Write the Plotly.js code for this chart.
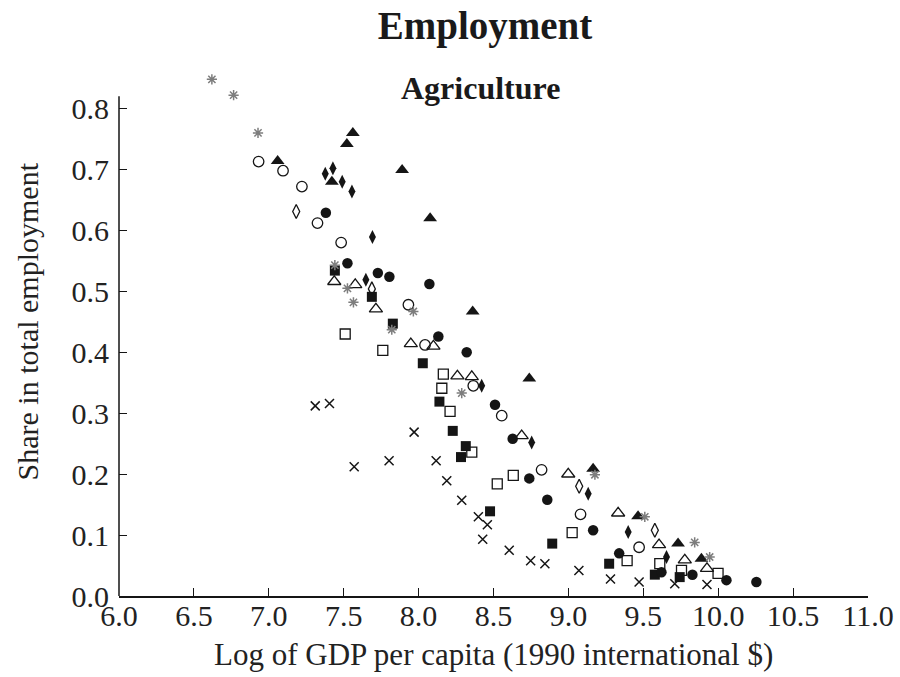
<!DOCTYPE html>
<html>
<head>
<meta charset="utf-8">
<script src="https://cdn.plot.ly/plotly-3.0.1.min.js"></script>
<style>html,body{margin:0;padding:0;background:#fff;}#chart{width:900px;height:677px;}</style>
</head>
<body>
<div id="chart"></div>
<script>
// Log of GDP per capita (x) and share of agriculture in total employment (y), by country series
const asteriskX = [6.62, 6.765, 6.928, 7.441, 7.525, 7.565, 7.821, 7.965, 8.288, 9.177, 9.51, 9.843, 9.943];
const asteriskY = [0.848, 0.822, 0.760, 0.543, 0.505, 0.482, 0.437, 0.467, 0.333, 0.199, 0.130, 0.088, 0.064];

const filledTriX = [7.059, 7.521, 7.561, 7.421, 7.89, 8.077, 8.361, 8.739, 9.165, 9.465, 9.732, 9.888];
const filledTriY = [0.714, 0.742, 0.760, 0.680, 0.699, 0.620, 0.467, 0.357, 0.209, 0.131, 0.086, 0.061];

const openCircX = [6.932, 7.095, 7.221, 7.325, 7.483, 7.932, 8.043, 8.365, 8.555, 8.821, 9.081, 9.472];
const openCircY = [0.713, 0.698, 0.672, 0.612, 0.580, 0.478, 0.412, 0.345, 0.296, 0.207, 0.134, 0.080];

const filledDiaX = [7.377, 7.428, 7.49, 7.555, 7.692, 7.648, 8.421, 8.755, 9.132, 9.399, 9.655];
const filledDiaY = [0.693, 0.702, 0.680, 0.664, 0.589, 0.519, 0.345, 0.252, 0.168, 0.105, 0.064];

const openDiaX = [7.183, 7.688, 9.072, 9.577];
const openDiaY = [0.631, 0.504, 0.180, 0.108];

const filledCircX = [7.381, 7.525, 7.728, 7.805, 8.072, 8.132, 8.321, 8.51, 8.628, 8.739, 8.859, 9.165, 9.339, 9.621, 9.828, 10.055, 10.255];
const filledCircY = [0.629, 0.546, 0.530, 0.524, 0.512, 0.426, 0.400, 0.314, 0.258, 0.193, 0.158, 0.108, 0.070, 0.039, 0.035, 0.026, 0.023];

const filledSqX = [7.441, 7.688, 7.828, 8.028, 8.139, 8.228, 8.315, 8.283, 8.477, 8.892, 9.272, 9.577, 9.743];
const filledSqY = [0.534, 0.491, 0.447, 0.382, 0.319, 0.271, 0.246, 0.228, 0.139, 0.086, 0.053, 0.035, 0.031];

const openSqX = [7.51, 7.761, 8.165, 8.155, 8.21, 8.355, 8.525, 8.632, 9.025, 9.392, 9.61, 9.755, 9.999];
const openSqY = [0.430, 0.403, 0.364, 0.341, 0.303, 0.236, 0.184, 0.198, 0.104, 0.058, 0.053, 0.042, 0.037];

const openTriX = [7.437, 7.577, 7.715, 7.948, 8.099, 8.259, 8.355, 8.688, 8.999, 9.332, 9.605, 9.777, 9.925];
const openTriY = [0.516, 0.511, 0.471, 0.414, 0.410, 0.361, 0.360, 0.263, 0.200, 0.136, 0.084, 0.059, 0.045];

const crossX = [7.31, 7.405, 7.57, 7.803, 7.97, 8.117, 8.188, 8.288, 8.399, 8.459, 8.428, 8.605, 8.748, 8.843, 9.07, 9.281, 9.472, 9.71, 9.925];
const crossY = [0.312, 0.316, 0.212, 0.222, 0.269, 0.222, 0.189, 0.157, 0.130, 0.117, 0.093, 0.075, 0.058, 0.053, 0.042, 0.028, 0.023, 0.020, 0.019];

const xTicks = [6.0, 6.5, 7.0, 7.5, 8.0, 8.5, 9.0, 9.5, 10.0, 10.5, 11.0];
const yTicks = [0.0, 0.1, 0.2, 0.3, 0.4, 0.5, 0.6, 0.7, 0.8];
const yAxisTop = 0.82;   // the drawn y axis stops here
const yRangeTop = 0.86;  // room above it for the points that pass the axis end

const chartTitle = 'Employment';
const panelTitle = 'Agriculture';
const xTitle = 'Log of GDP per capita (1990 international $)';
const yTitle = 'Share in total employment';

const INK = '#151515';
const GRAY = '#7d7d7d';
const SERIF = '"Liberation Serif", "Times New Roman", serif';

function tr(x, y, symbol, size, color, lineW, lineColor) {
  return {
    type: 'scatter', mode: 'markers', x: x, y: y, cliponaxis: false, hoverinfo: 'skip',
    marker: { symbol: symbol, size: size, color: color, line: { width: lineW, color: lineColor || color } }
  };
}

const data = [
  tr(crossX, crossY, 'x-thin-open', 9, INK, 1.5),
  tr(openSqX, openSqY, 'square-open', 10, INK, 1.3),
  tr(openTriX, openTriY, 'triangle-up-open', 11.5, INK, 1.3),
  tr(openCircX, openCircY, 'circle-open', 10.5, INK, 1.3),
  tr(openDiaX, openDiaY, 'diamond-tall-open', 10, INK, 1.3),
  tr(filledSqX, filledSqY, 'square', 10, INK, 0),
  tr(filledCircX, filledCircY, 'circle', 10.5, INK, 0),
  tr(filledDiaX, filledDiaY, 'diamond-tall', 10, INK, 0),
  tr(filledTriX, filledTriY, 'triangle-up', 12, INK, 0),
  tr(asteriskX, asteriskY, 'asterisk-open', 8.5, GRAY, 1.5)
];

const axisCommon = {
  showgrid: false, zeroline: false,
  ticks: 'inside', ticklen: 8, tickwidth: 1, tickcolor: INK, tickformat: '.1f',
  tickfont: { family: SERIF, size: 30, color: '#222' }
};

// pixels per unit on y: 0 at 596.5 px, 0.8 at 108.7 px
const pxPerY = 610;
const plotBottom = 596.5;
const marginTop = plotBottom - pxPerY * yRangeTop;

const layout = {
  width: 900, height: 677,
  margin: { l: 118.5, r: 31.5, t: marginTop, b: 677 - plotBottom },
  paper_bgcolor: '#fff', plot_bgcolor: '#fff',
  showlegend: false,
  title: {
    text: '<b>' + chartTitle + '</b>', font: { family: SERIF, size: 39, color: '#1a1a1a' },
    xref: 'container', x: 485 / 900, xanchor: 'center',
    yref: 'container', y: 1 - 25 / 677, yanchor: 'middle'
  },
  xaxis: Object.assign({}, axisCommon, {
    range: [6, 11], tickmode: 'array', tickvals: xTicks, ticklabelstandoff: -8,
    showline: true, linecolor: INK, linewidth: 1.5
  }),
  yaxis: Object.assign({}, axisCommon, {
    range: [0, yRangeTop], tickmode: 'array', tickvals: yTicks, ticklabelstandoff: 9,
    showline: false
  }),
  shapes: [
    { type: 'line', xref: 'paper', yref: 'y', x0: 0, x1: 0, y0: 0, y1: yAxisTop,
      line: { color: INK, width: 1.5 } }
  ],
  annotations: [
    { text: '<b>' + panelTitle + '</b>', xref: 'paper', yref: 'y', x: (480 - 118.5) / 750, y: (plotBottom - 88) / pxPerY,
      xanchor: 'center', yanchor: 'middle', showarrow: false, font: { family: SERIF, size: 32, color: '#1a1a1a' } },
    { text: xTitle, xref: 'paper', yref: 'paper', x: 0.5, y: -(655 - plotBottom) / (plotBottom - marginTop),
      xanchor: 'center', yanchor: 'middle', showarrow: false, font: { family: SERIF, size: 31, color: '#222' } },
    { text: yTitle, xref: 'paper', yref: 'y', x: (27 - 118.5) / 750, y: (plotBottom - 322) / pxPerY, textangle: -90,
      xanchor: 'center', yanchor: 'middle', showarrow: false, font: { family: SERIF, size: 30, color: '#222' } }
  ]
};

Plotly.newPlot('chart', data, layout, { displayModeBar: false, staticPlot: true });
</script>
</body>
</html>
